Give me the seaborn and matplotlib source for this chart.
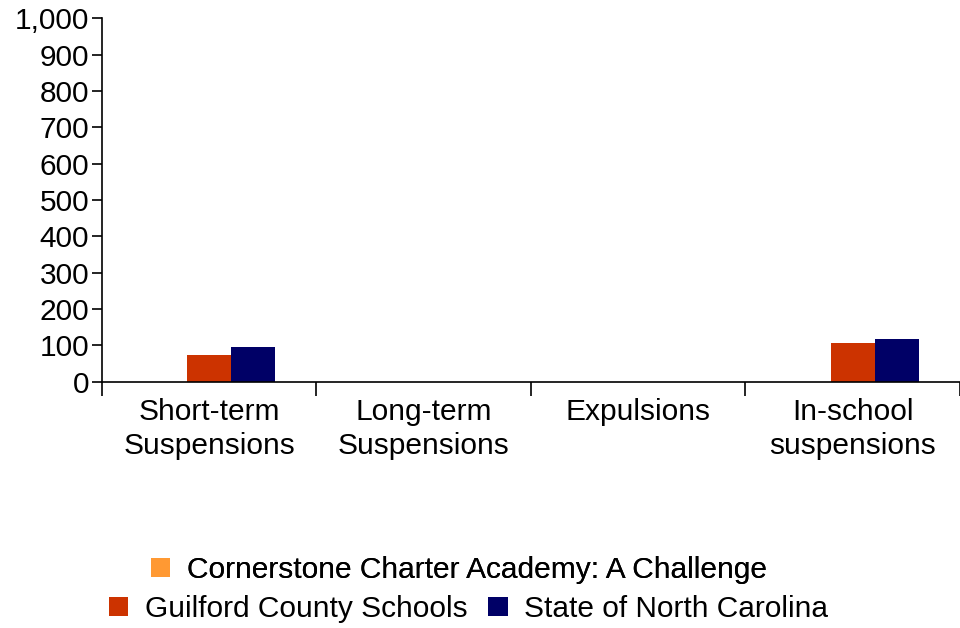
import pandas as pd
import seaborn as sns
import matplotlib.pyplot as plt
from matplotlib.ticker import FuncFormatter, FixedLocator

# Suspension counts per category
categories = ["Short-term\nSuspensions", "Long-term\nSuspensions", "Expulsions", "In-school\nsuspensions"]
series = ["Cornerstone Charter Academy: A Challenge", "Guilford County Schools", "State of North Carolina"]
cornerstone = [0, 0, 0, 0]
guilford = [75, 0, 0, 106]
state = [97, 0, 0, 117]
colors = ["#FF9933", "#CC3300", "#000066"]

df = pd.DataFrame({
    "category": categories * 3,
    "series": [series[0]] * 4 + [series[1]] * 4 + [series[2]] * 4,
    "value": cornerstone + guilford + state,
})

sns.set_style("white")
plt.rcParams["font.family"] = ["Liberation Sans", "DejaVu Sans"]

fig = plt.figure(figsize=(9.6, 6.28), dpi=100)
ax = fig.add_axes([0.106, 0.392, 0.894, 0.579])

sns.barplot(data=df, x="category", y="value", hue="series", palette=colors,
            width=0.615, saturation=1, linewidth=0, ax=ax, legend=True)

ax.set_ylim(0, 1000)
ax.set_xlim(-0.5, 3.5)
ax.set_yticks(range(0, 1001, 100))
ax.yaxis.set_major_formatter(FuncFormatter(lambda v, p: f"{v:,.0f}"))
ax.set_xlabel("")
ax.set_ylabel("")

for s in ["top", "right"]:
    ax.spines[s].set_visible(False)
ax.spines["left"].set_color("black")
ax.spines["bottom"].set_color("black")
ax.spines["left"].set_linewidth(1.2)
ax.spines["bottom"].set_linewidth(1.2)

ax.tick_params(axis="y", direction="out", length=7, width=1.2, color="black",
               labelsize=21.5, pad=2, left=True, labelcolor="black")
ax.tick_params(axis="x", which="major", length=0, labelsize=21.5, pad=12, labelcolor="black")
for t in ax.get_xticklabels():
    t.set_linespacing(1.25)
ax.xaxis.set_minor_locator(FixedLocator([-0.5, 0.5, 1.5, 2.5, 3.5]))
ax.tick_params(axis="x", which="minor", direction="out", length=10, width=1.2,
               color="black", bottom=True)

handles, labels = ax.get_legend_handles_labels()
ax.get_legend().remove()

leg1 = fig.legend(handles[:1], labels[:1], loc="center", bbox_to_anchor=(0.478, 1 - 570 / 628),
                  frameon=False, fontsize=21.5, handlelength=0.65, handleheight=0.65,
                  handletextpad=0.55, labelcolor="black")
fig.add_artist(leg1)
fig.legend(handles[1:], labels[1:], loc="center", bbox_to_anchor=(0.488, 1 - 609 / 628),
           ncol=2, frameon=False, fontsize=21.5, handlelength=0.65, handleheight=0.65,
           handletextpad=0.55, columnspacing=0.7, labelcolor="black")

fig.savefig("out.png", dpi=100)
